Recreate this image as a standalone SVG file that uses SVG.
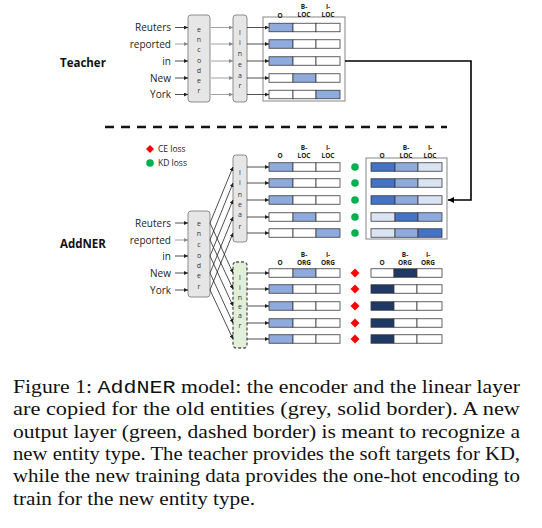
<svg xmlns="http://www.w3.org/2000/svg" width="542" height="528" viewBox="0 0 542 528">
<defs>
<marker id="ah" viewBox="0 0 6 6" refX="6" refY="3" markerWidth="4" markerHeight="4" markerUnits="userSpaceOnUse" orient="auto"><path d="M0,0 L6,3 L0,6 z" fill="#222"/></marker>
<marker id="ahg" viewBox="0 0 6 6" refX="6" refY="3" markerWidth="4" markerHeight="4" markerUnits="userSpaceOnUse" orient="auto"><path d="M0,0 L6,3 L0,6 z" fill="#888"/></marker>
<marker id="ahb" viewBox="0 0 6 6" refX="6" refY="3" markerWidth="6" markerHeight="6" markerUnits="userSpaceOnUse" orient="auto"><path d="M0,0 L6,3 L0,6 z" fill="#000"/></marker>
</defs>
<style>
.wd{font-family:"Open Sans","DejaVu Sans",sans-serif;font-size:10px;fill:#222;text-anchor:end}
.lt{font-family:"Open Sans","DejaVu Sans",sans-serif;font-size:7px;fill:#333;text-anchor:middle}
.hd{font-family:"Open Sans","DejaVu Sans",sans-serif;font-size:6.5px;font-weight:bold;fill:#222;text-anchor:middle}
.ttl{font-family:"Open Sans","DejaVu Sans",sans-serif;font-size:11.5px;font-weight:bold;fill:#111}
.lg{font-family:"Open Sans","DejaVu Sans",sans-serif;font-size:8.5px;fill:#222}
.box{fill:#e6e6e6;stroke:#8c8c8c;stroke-width:1}
.gbox{fill:#e2efd9;stroke:#555;stroke-width:1.3;stroke-dasharray:3 2}
.c{stroke:#3a3a3a;stroke-width:0.8}
.w{fill:#fff}.b{fill:#8faadc}.d{fill:#4472c4}.l{fill:#dae3f3}.n{fill:#1f3864}
.a{stroke:#222;stroke-width:0.8;fill:none;marker-end:url(#ah)}
.ag{stroke:#888;stroke-width:0.8;fill:none;marker-end:url(#ahg)}
.cap{font-family:"Liberation Serif","Times New Roman",serif;font-size:19px;fill:#111}
.mono{font-family:"Liberation Mono","Courier New",monospace}
</style>

<text class="ttl" x="60" y="67">Teacher</text>
<text class="ttl" x="60" y="248">AddNER</text>

<g id="legend">
<path d="M150,145 L154,149 L150,153 L146,149 z" fill="#ff0000"/>
<text class="lg" x="158" y="152">CE loss</text>
<circle cx="150" cy="163" r="3.8" fill="#00b050"/>
<text class="lg" x="158" y="166">KD loss</text>
</g>

<g id="teacher-words">
<text class="wd" x="171" y="31">Reuters</text>
<text class="wd" x="171" y="47.5">reported</text>
<text class="wd" x="171" y="64.5">in</text>
<text class="wd" x="171" y="81.5">New</text>
<text class="wd" x="171" y="98">York</text>
</g>
<g id="teacher-encoder">
<rect class="box" x="188" y="15" width="22" height="87" rx="3"/>
<text class="lt" x="199" y="32">e</text><text class="lt" x="199" y="42">n</text><text class="lt" x="199" y="52">c</text><text class="lt" x="199" y="63">o</text><text class="lt" x="199" y="73">d</text><text class="lt" x="199" y="83">e</text><text class="lt" x="199" y="93">r</text>
</g>
<g id="teacher-linear">
<rect class="box" x="233" y="15" width="14" height="87" rx="3"/>
<text class="lt" x="240" y="35">l</text><text class="lt" x="240" y="45">i</text><text class="lt" x="240" y="56">n</text><text class="lt" x="240" y="67">e</text><text class="lt" x="240" y="78">a</text><text class="lt" x="240" y="88">r</text>
</g>
<g id="teacher-output">
<rect x="263" y="17" width="82" height="84" fill="none" stroke="#999" stroke-width="1.2"/>
<text class="hd" x="280" y="18">O</text>
<text class="hd" x="304" y="9">B-</text><text class="hd" x="304" y="17">LOC</text>
<text class="hd" x="328" y="9">I-</text><text class="hd" x="328" y="17">LOC</text>
<rect class="c b" x="269" y="23.25" width="24" height="8.5"/><rect class="c w" x="293" y="23.25" width="23" height="8.5"/><rect class="c w" x="316" y="23.25" width="24" height="8.5"/>
<rect class="c b" x="269" y="39.75" width="24" height="8.5"/><rect class="c w" x="293" y="39.75" width="23" height="8.5"/><rect class="c w" x="316" y="39.75" width="24" height="8.5"/>
<rect class="c b" x="269" y="56.75" width="24" height="8.5"/><rect class="c w" x="293" y="56.75" width="23" height="8.5"/><rect class="c w" x="316" y="56.75" width="24" height="8.5"/>
<rect class="c w" x="269" y="73.75" width="24" height="8.5"/><rect class="c b" x="293" y="73.75" width="23" height="8.5"/><rect class="c w" x="316" y="73.75" width="24" height="8.5"/>
<rect class="c w" x="269" y="90.25" width="24" height="8.5"/><rect class="c w" x="293" y="90.25" width="23" height="8.5"/><rect class="c b" x="316" y="90.25" width="24" height="8.5"/>
</g>

<line x1="105" y1="127" x2="447" y2="127" stroke="#111" stroke-width="2.5" stroke-dasharray="9 7"/>

<g id="student-words">
<text class="wd" x="171" y="226.5">Reuters</text>
<text class="wd" x="171" y="243.5">reported</text>
<text class="wd" x="171" y="259.5">in</text>
<text class="wd" x="171" y="276.5">New</text>
<text class="wd" x="171" y="293.5">York</text>
</g>
<g id="student-encoder">
<rect class="box" x="188" y="211" width="22" height="86" rx="3"/>
<text class="lt" x="199" y="226">e</text><text class="lt" x="199" y="236">n</text><text class="lt" x="199" y="247">c</text><text class="lt" x="199" y="258">o</text><text class="lt" x="199" y="268">d</text><text class="lt" x="199" y="278">e</text><text class="lt" x="199" y="289">r</text>
</g>
<g id="student-linear-old">
<rect class="box" x="233" y="155" width="14" height="87" rx="3"/>
<text class="lt" x="240" y="175">l</text><text class="lt" x="240" y="185">i</text><text class="lt" x="240" y="197">n</text><text class="lt" x="240" y="207">e</text><text class="lt" x="240" y="217">a</text><text class="lt" x="240" y="229">r</text>
</g>
<g id="student-linear-new">
<rect class="gbox" x="233" y="262" width="14" height="86" rx="3"/>
<text class="lt" x="240" y="280">l</text><text class="lt" x="240" y="290">i</text><text class="lt" x="240" y="300">n</text><text class="lt" x="240" y="309">e</text><text class="lt" x="240" y="318">a</text><text class="lt" x="240" y="328">r</text>
</g>
<g id="student-output-old">
<text class="hd" x="280" y="158">O</text>
<text class="hd" x="304" y="150">B-</text><text class="hd" x="304" y="158">LOC</text>
<text class="hd" x="328" y="150">I-</text><text class="hd" x="328" y="158">LOC</text>
<rect class="c b" x="269" y="162.75" width="24" height="8.5"/><rect class="c w" x="293" y="162.75" width="23" height="8.5"/><rect class="c w" x="316" y="162.75" width="24" height="8.5"/>
<rect class="c b" x="269" y="178.75" width="24" height="8.5"/><rect class="c w" x="293" y="178.75" width="23" height="8.5"/><rect class="c w" x="316" y="178.75" width="24" height="8.5"/>
<rect class="c b" x="269" y="195.75" width="24" height="8.5"/><rect class="c w" x="293" y="195.75" width="23" height="8.5"/><rect class="c w" x="316" y="195.75" width="24" height="8.5"/>
<rect class="c w" x="269" y="212.75" width="24" height="8.5"/><rect class="c b" x="293" y="212.75" width="23" height="8.5"/><rect class="c w" x="316" y="212.75" width="24" height="8.5"/>
<rect class="c w" x="269" y="228.75" width="24" height="8.5"/><rect class="c w" x="293" y="228.75" width="23" height="8.5"/><rect class="c b" x="316" y="228.75" width="24" height="8.5"/>
</g>
<g id="kd-loss">
<circle cx="355" cy="167" r="3.8" fill="#00b050"/>
<circle cx="355" cy="183" r="3.8" fill="#00b050"/>
<circle cx="355" cy="200" r="3.8" fill="#00b050"/>
<circle cx="355" cy="217" r="3.8" fill="#00b050"/>
<circle cx="355" cy="233" r="3.8" fill="#00b050"/>
</g>
<g id="soft-targets">
<rect x="366" y="158" width="81" height="81" fill="none" stroke="#999" stroke-width="1.2"/>
<text class="hd" x="382" y="158">O</text>
<text class="hd" x="406" y="150">B-</text><text class="hd" x="406" y="158">LOC</text>
<text class="hd" x="430" y="150">I-</text><text class="hd" x="430" y="158">LOC</text>
<rect class="c d" x="371" y="162.75" width="24" height="8.5"/><rect class="c b" x="395" y="162.75" width="23" height="8.5"/><rect class="c l" x="418" y="162.75" width="24" height="8.5"/>
<rect class="c d" x="371" y="178.75" width="24" height="8.5"/><rect class="c b" x="395" y="178.75" width="23" height="8.5"/><rect class="c l" x="418" y="178.75" width="24" height="8.5"/>
<rect class="c d" x="371" y="195.75" width="24" height="8.5"/><rect class="c b" x="395" y="195.75" width="23" height="8.5"/><rect class="c l" x="418" y="195.75" width="24" height="8.5"/>
<rect class="c l" x="371" y="212.75" width="24" height="8.5"/><rect class="c d" x="395" y="212.75" width="23" height="8.5"/><rect class="c b" x="418" y="212.75" width="24" height="8.5"/>
<rect class="c l" x="371" y="228.75" width="24" height="8.5"/><rect class="c b" x="395" y="228.75" width="23" height="8.5"/><rect class="c d" x="418" y="228.75" width="24" height="8.5"/>
</g>
<g id="student-output-new">
<text class="hd" x="280" y="265">O</text>
<text class="hd" x="304" y="257">B-</text><text class="hd" x="304" y="265">ORG</text>
<text class="hd" x="328" y="257">I-</text><text class="hd" x="328" y="265">ORG</text>
<rect class="c w" x="269" y="268.75" width="24" height="8.5"/><rect class="c b" x="293" y="268.75" width="23" height="8.5"/><rect class="c w" x="316" y="268.75" width="24" height="8.5"/>
<rect class="c b" x="269" y="284.75" width="24" height="8.5"/><rect class="c w" x="293" y="284.75" width="23" height="8.5"/><rect class="c w" x="316" y="284.75" width="24" height="8.5"/>
<rect class="c b" x="269" y="301.75" width="24" height="8.5"/><rect class="c w" x="293" y="301.75" width="23" height="8.5"/><rect class="c w" x="316" y="301.75" width="24" height="8.5"/>
<rect class="c b" x="269" y="318.75" width="24" height="8.5"/><rect class="c w" x="293" y="318.75" width="23" height="8.5"/><rect class="c w" x="316" y="318.75" width="24" height="8.5"/>
<rect class="c b" x="269" y="334.75" width="24" height="8.5"/><rect class="c w" x="293" y="334.75" width="23" height="8.5"/><rect class="c w" x="316" y="334.75" width="24" height="8.5"/>
</g>
<g id="ce-loss">
<path d="M355,268.5 L359.5,273 L355,277.5 L350.5,273 z" fill="#ff0000"/>
<path d="M355,284.5 L359.5,289 L355,293.5 L350.5,289 z" fill="#ff0000"/>
<path d="M355,301.5 L359.5,306 L355,310.5 L350.5,306 z" fill="#ff0000"/>
<path d="M355,318.5 L359.5,323 L355,327.5 L350.5,323 z" fill="#ff0000"/>
<path d="M355,334.5 L359.5,339 L355,343.5 L350.5,339 z" fill="#ff0000"/>
</g>
<g id="one-hot">
<text class="hd" x="382" y="265">O</text>
<text class="hd" x="405" y="257">B-</text><text class="hd" x="405" y="265">ORG</text>
<text class="hd" x="428" y="257">I-</text><text class="hd" x="428" y="265">ORG</text>
<rect class="c w" x="371" y="268.75" width="23" height="8.5"/><rect class="c n" x="394" y="268.75" width="23" height="8.5"/><rect class="c w" x="417" y="268.75" width="25" height="8.5"/>
<rect class="c n" x="371" y="284.75" width="23" height="8.5"/><rect class="c w" x="394" y="284.75" width="23" height="8.5"/><rect class="c w" x="417" y="284.75" width="25" height="8.5"/>
<rect class="c n" x="371" y="301.75" width="23" height="8.5"/><rect class="c w" x="394" y="301.75" width="23" height="8.5"/><rect class="c w" x="417" y="301.75" width="25" height="8.5"/>
<rect class="c n" x="371" y="318.75" width="23" height="8.5"/><rect class="c w" x="394" y="318.75" width="23" height="8.5"/><rect class="c w" x="417" y="318.75" width="25" height="8.5"/>
<rect class="c n" x="371" y="334.75" width="23" height="8.5"/><rect class="c w" x="394" y="334.75" width="23" height="8.5"/><rect class="c w" x="417" y="334.75" width="25" height="8.5"/>
</g>

<g id="connectors">
<line class="a" x1="175" y1="27.5" x2="188" y2="27.5"/>
<line class="ag" x1="175" y1="44" x2="188" y2="44"/>
<line class="a" x1="175" y1="61" x2="188" y2="61"/>
<line class="a" x1="175" y1="78" x2="188" y2="78"/>
<line class="a" x1="175" y1="94.5" x2="188" y2="94.5"/>
<line class="ag" x1="211" y1="27.5" x2="233" y2="27.5"/>
<line class="ag" x1="211" y1="44" x2="233" y2="44"/>
<line class="ag" x1="211" y1="61" x2="233" y2="61"/>
<line class="ag" x1="211" y1="78" x2="233" y2="78"/>
<line class="ag" x1="211" y1="94.5" x2="233" y2="94.5"/>
<line class="a" x1="247" y1="27.5" x2="269" y2="27.5"/>
<line class="a" x1="247" y1="44" x2="269" y2="44"/>
<line class="a" x1="247" y1="61" x2="269" y2="61"/>
<line class="a" x1="247" y1="78" x2="269" y2="78"/>
<line class="a" x1="247" y1="94.5" x2="269" y2="94.5"/>
<path d="M345,61 H471 V200 H448" fill="none" stroke="#000" stroke-width="1.6" marker-end="url(#ahb)"/>

<line class="a" x1="175" y1="223" x2="188" y2="223"/>
<line class="ag" x1="175" y1="240" x2="188" y2="240"/>
<line class="a" x1="175" y1="256" x2="188" y2="256"/>
<line class="a" x1="175" y1="273" x2="188" y2="273"/>
<line class="a" x1="175" y1="290" x2="188" y2="290"/>

<line class="a" x1="210" y1="223" x2="233" y2="167"/>
<line class="a" x1="210" y1="240" x2="233" y2="183"/>
<line class="a" x1="210" y1="256" x2="233" y2="200"/>
<line class="a" x1="210" y1="273" x2="233" y2="217"/>
<line class="a" x1="210" y1="290" x2="233" y2="233"/>
<line class="a" x1="210" y1="223" x2="233" y2="273"/>
<line class="a" x1="210" y1="240" x2="233" y2="289"/>
<line class="a" x1="210" y1="256" x2="233" y2="306"/>
<line class="a" x1="210" y1="273" x2="233" y2="323"/>
<line class="a" x1="210" y1="290" x2="233" y2="339"/>

<line class="a" x1="247" y1="167" x2="269" y2="167"/>
<line class="a" x1="247" y1="183" x2="269" y2="183"/>
<line class="a" x1="247" y1="200" x2="269" y2="200"/>
<line class="a" x1="247" y1="217" x2="269" y2="217"/>
<line class="a" x1="247" y1="233" x2="269" y2="233"/>
<line class="a" x1="247" y1="273" x2="269" y2="273"/>
<line class="a" x1="247" y1="289" x2="269" y2="289"/>
<line class="a" x1="247" y1="306" x2="269" y2="306"/>
<line class="a" x1="247" y1="323" x2="269" y2="323"/>
<line class="a" x1="247" y1="339" x2="269" y2="339"/>
</g>

<g id="caption">
<text class="cap" x="13" y="393" textLength="507" lengthAdjust="spacingAndGlyphs">Figure 1: <tspan class="mono">AddNER</tspan> model: the encoder and the linear layer</text>
<text class="cap" x="13" y="415" textLength="507" lengthAdjust="spacingAndGlyphs">are copied for the old entities (grey, solid border). A new</text>
<text class="cap" x="13" y="437.5" textLength="507" lengthAdjust="spacingAndGlyphs">output layer (green, dashed border) is meant to recognize a</text>
<text class="cap" x="13" y="460" textLength="507" lengthAdjust="spacingAndGlyphs">new entity type. The teacher provides the soft targets for KD,</text>
<text class="cap" x="13" y="482" textLength="507" lengthAdjust="spacingAndGlyphs">while the new training data provides the one-hot encoding to</text>
<text class="cap" x="13" y="504.5" textLength="242" lengthAdjust="spacingAndGlyphs">train for the new entity type.</text>
</g>
</svg>
